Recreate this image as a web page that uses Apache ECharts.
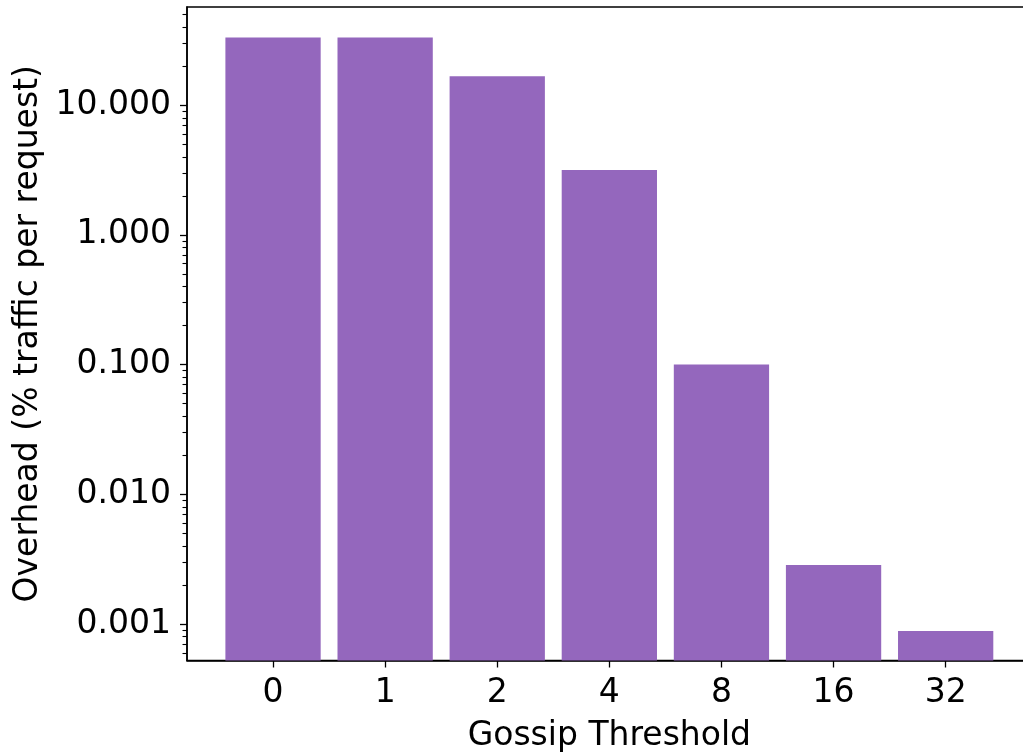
<!DOCTYPE html>
<html>
<head>
<meta charset="utf-8">
<script src="https://cdn.jsdelivr.net/npm/echarts@6/dist/echarts.min.js"></script>
<style>
html,body{margin:0;padding:0;background:#fff;}
#chart{width:1023px;height:753px;}
</style>
</head>
<body>
<div id="chart"></div>
<script>
// ---- data ----
const categories = ['0', '1', '2', '4', '8', '16', '32'];
const overhead = [33.3, 33.3, 16.7, 3.17, 0.100, 0.00285, 0.000883];
const yMajorTicks = [0.001, 0.01, 0.1, 1, 10];
const yMinorTicks = [0.0006, 0.0007, 0.0008, 0.0009,
  0.002, 0.003, 0.004, 0.005, 0.006, 0.007, 0.008, 0.009,
  0.02, 0.03, 0.04, 0.05, 0.06, 0.07, 0.08, 0.09,
  0.2, 0.3, 0.4, 0.5, 0.6, 0.7, 0.8, 0.9,
  2, 3, 4, 5, 6, 7, 8, 9,
  20, 30, 40, 50];
const yMin = 0.000523, yMax = 57.2;
const xMin = -0.7675, xMax = 6.7675;
const xTickIdx = categories.map((c, i) => i);

const FONT = 'DejaVu Sans';
const FS = 33;
const chart = echarts.init(document.getElementById('chart'), null, {renderer: 'canvas'});
chart.setOption({
  animation: false,
  backgroundColor: '#fff',
  grid: {left: 187, top: 7, bottom: 92.5, right: -8.7, show: true, borderColor: '#000', borderWidth: 1.5,
         containLabel: false, outerBoundsMode: 'none'},
  xAxis: {
    type: 'value', min: xMin, max: xMax,
    axisLine: {show: true, onZero: false, lineStyle: {color: '#000', width: 1.5}},
    axisTick: {show: true, length: 7, lineStyle: {color: '#000', width: 1.3}, customValues: xTickIdx},
    axisLabel: {customValues: xTickIdx, formatter: v => categories[Math.round(v)], fontFamily: FONT, fontSize: FS, color: '#000', margin: 16},
    splitLine: {show: false},
    name: 'Gossip Threshold', nameLocation: 'middle', nameGap: 59,
    nameTextStyle: {fontFamily: FONT, fontSize: FS, color: '#000'}
  },
  yAxis: [{
    type: 'log', logBase: 10, min: yMin, max: yMax, startValue: yMin,
    axisLine: {show: true, onZero: false, lineStyle: {color: '#000', width: 1.5}},
    axisTick: {show: true, length: 7, lineStyle: {color: '#000', width: 1.3}, customValues: yMajorTicks},
    axisLabel: {customValues: yMajorTicks, formatter: v => Number(v).toFixed(3), fontFamily: FONT, fontSize: FS, color: '#000', margin: 16},
    splitLine: {show: false},
    name: 'Overhead (% traffic per request)', nameLocation: 'middle', nameGap: 139,
    nameTextStyle: {fontFamily: FONT, fontSize: FS, color: '#000'}
  }, {
    type: 'log', logBase: 10, min: yMin, max: yMax, position: 'left',
    axisLine: {show: false, onZero: false},
    axisTick: {show: true, length: 4.5, lineStyle: {color: '#000', width: 1.1}, customValues: yMinorTicks},
    axisLabel: {show: false},
    splitLine: {show: false}
  }],
  series: [{
    type: 'bar',
    yAxisIndex: 0,
    barWidth: '85%',
    itemStyle: {color: '#9467bd'},
    data: overhead.map((v, i) => [i, v])
  }]
});
</script>
</body>
</html>
